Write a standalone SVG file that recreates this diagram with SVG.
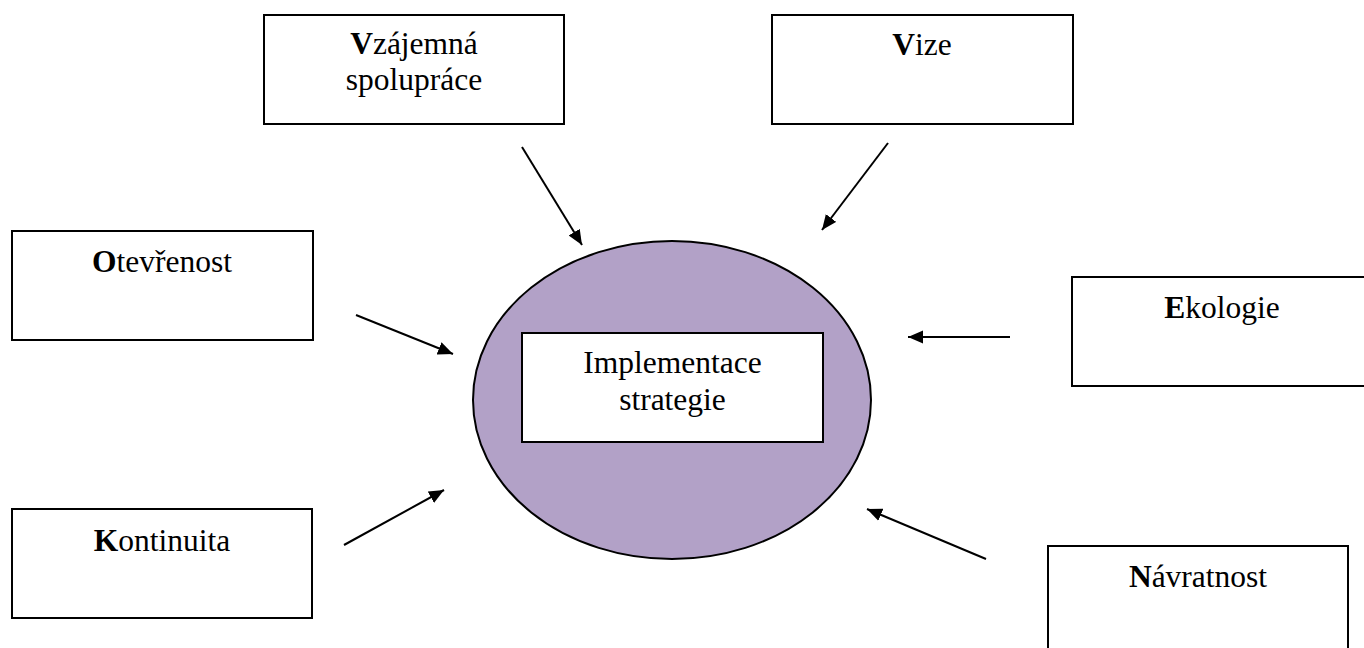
<svg xmlns="http://www.w3.org/2000/svg" width="1364" height="648" viewBox="0 0 1364 648">
<style>
.box{fill:#fff;stroke:#000;stroke-width:2}
.t{font-family:"Liberation Serif","Times New Roman",serif;font-size:31.5px;fill:#000;text-anchor:middle}
.b{font-weight:bold}
.c{stroke:#000;stroke-width:2;fill:none;marker-end:url(#ah)}
</style>
<defs>
<marker id="ah" markerUnits="userSpaceOnUse" markerWidth="16" markerHeight="14" refX="15" refY="7" orient="auto">
<path d="M0,0.5 L15,7 L0,13.5 z" fill="#000"/>
</marker>
</defs>
<rect width="1364" height="648" fill="#fff"/>
<g id="center">
<ellipse cx="672" cy="400" rx="199" ry="159" fill="#b2a1c7" stroke="#000" stroke-width="2"/>
<rect class="box" x="522" y="333" width="301" height="109"/>
<text class="t" x="672.5" y="373">Implementace</text>
<text class="t" x="672.5" y="410">strategie</text>
</g>
<g id="spoluprace">
<rect class="box" x="264" y="15" width="300" height="109"/>
<text class="t" x="414" y="54"><tspan class="b">V</tspan>zájemná</text>
<text class="t" x="414" y="90">spolupráce</text>
</g>
<g id="vize">
<rect class="box" x="772" y="15" width="301" height="109"/>
<text class="t" x="922" y="55"><tspan class="b">V</tspan>ize</text>
</g>
<g id="otevrenost">
<rect class="box" x="12" y="231" width="301" height="109"/>
<text class="t" x="162" y="272"><tspan class="b">O</tspan>tevřenost</text>
</g>
<g id="ekologie">
<rect class="box" x="1072" y="277" width="300" height="109"/>
<text class="t" x="1222" y="318"><tspan class="b">E</tspan>kologie</text>
</g>
<g id="kontinuita">
<rect class="box" x="12" y="509" width="300" height="109"/>
<text class="t" x="162" y="551"><tspan class="b">K</tspan>ontinuita</text>
</g>
<g id="navratnost">
<rect class="box" x="1048" y="546" width="300" height="109"/>
<text class="t" x="1198" y="587"><tspan class="b">N</tspan>ávratnost</text>
</g>
<g id="connectors">
<line class="c" x1="522" y1="147" x2="582" y2="245"/>
<line class="c" x1="888" y1="143" x2="822" y2="230"/>
<line class="c" x1="356" y1="315" x2="453" y2="354"/>
<line class="c" x1="1010" y1="337" x2="908" y2="337"/>
<line class="c" x1="986" y1="559" x2="867" y2="509"/>
<line class="c" x1="344" y1="545" x2="444" y2="490"/>
</g>
</svg>
